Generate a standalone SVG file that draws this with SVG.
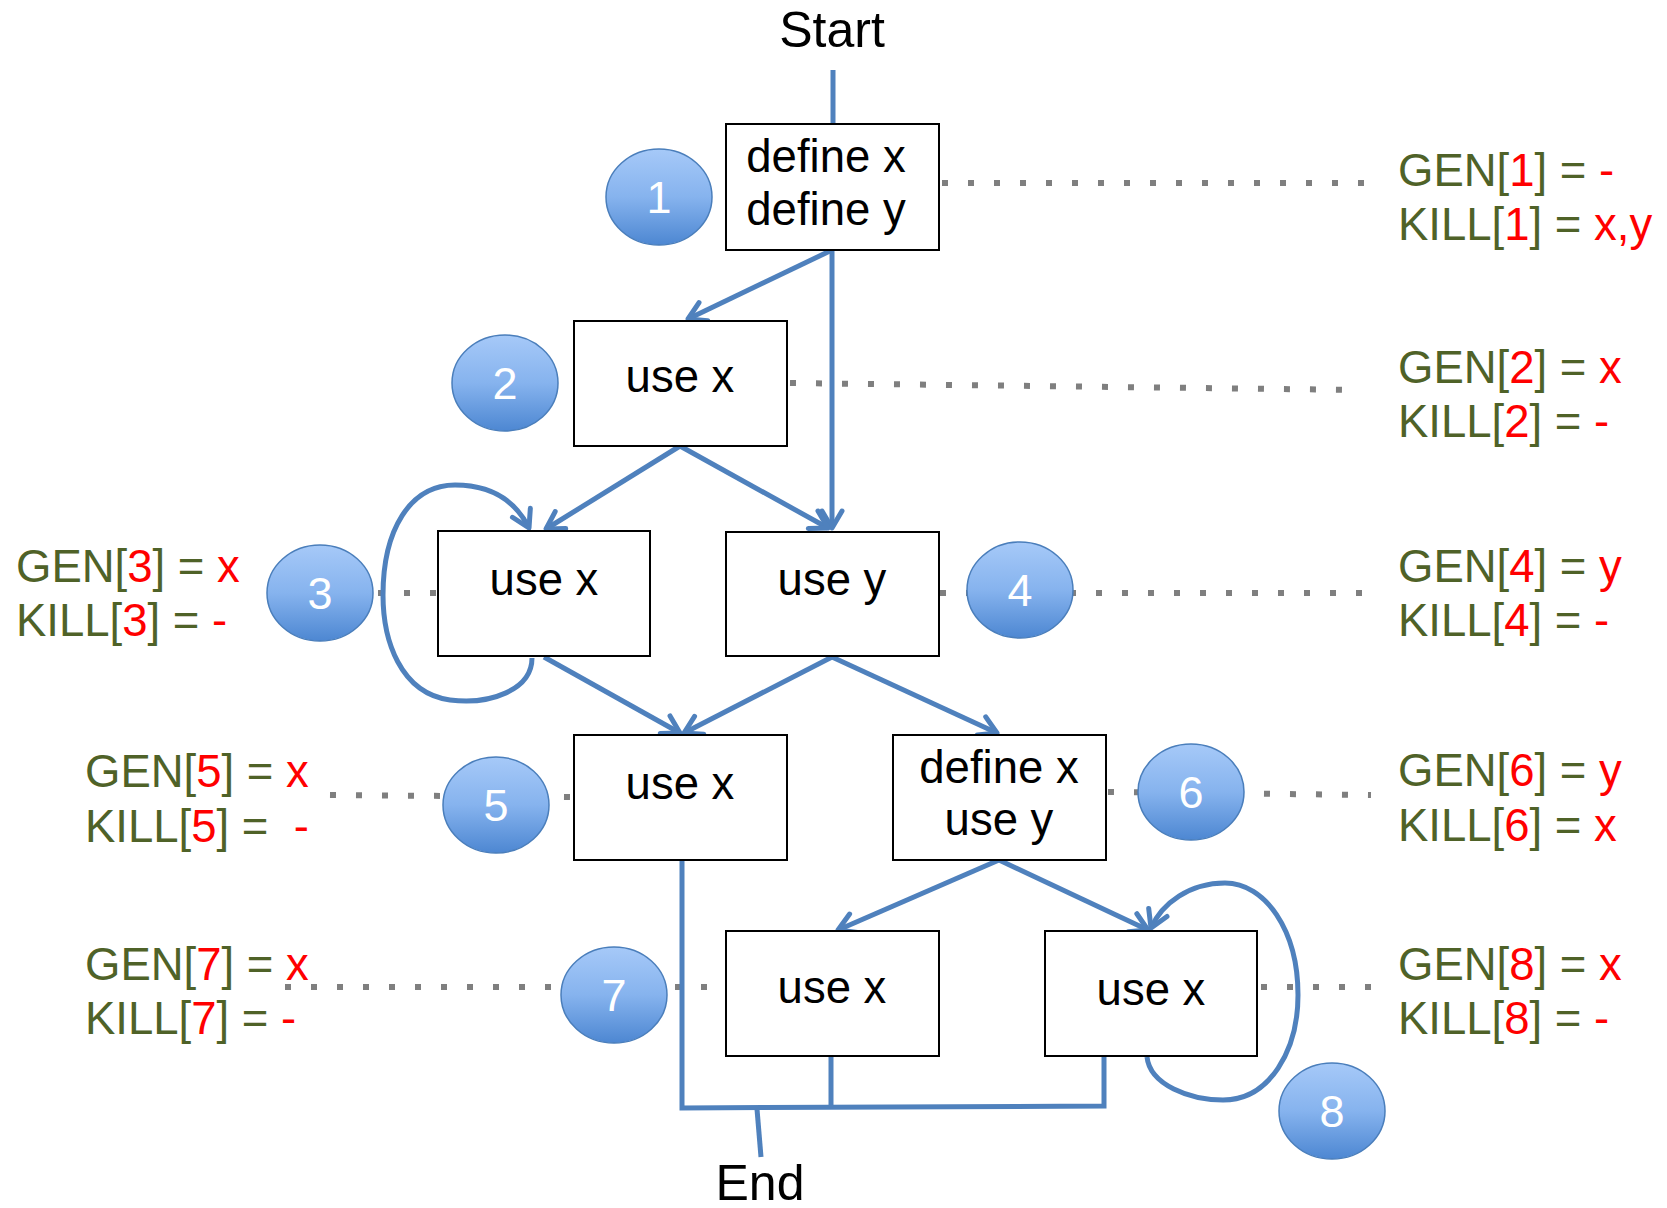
<svg xmlns="http://www.w3.org/2000/svg" width="1667" height="1208" viewBox="0 0 1667 1208">
<defs>
<linearGradient id="bub" x1="0" y1="0" x2="0" y2="1">
<stop offset="0" stop-color="#a6c9f8"/>
<stop offset="0.5" stop-color="#86b3ee"/>
<stop offset="1" stop-color="#4d87d2"/>
</linearGradient>
<marker id="arr" markerUnits="userSpaceOnUse" markerWidth="40" markerHeight="40" viewBox="-30 -20 40 40" refX="0" refY="0" orient="auto">
<path d="M-17,-10 L0,0 L-17,10" fill="none" stroke="#4f81bd" stroke-width="5" stroke-linecap="round" stroke-linejoin="round"/>
</marker>
</defs>
<style>
.box{fill:#fff;stroke:#000;stroke-width:2}
.bt{font-family:"Liberation Sans",Arial,sans-serif;font-size:45.5px;fill:#000;text-anchor:middle}
.bub{fill:url(#bub);stroke:#4a7ebb;stroke-width:1.5}
.bn{font-family:"Liberation Sans",Arial,sans-serif;font-size:45px;fill:#fff;text-anchor:middle}
.dot{stroke:#7f7f7f;stroke-width:6;stroke-dasharray:6 20;fill:none}
.lab{font-family:"Liberation Sans",Arial,sans-serif;font-size:45.5px;fill:#4f6228}
.r{fill:#ff0000}
.con{fill:none;stroke:#4f81bd;stroke-width:5}
.term{font-family:"Liberation Sans",Arial,sans-serif;font-size:50px;fill:#000;text-anchor:middle}
</style>
<rect width="1667" height="1208" fill="#fff"/>

<g id="dotted">
<line class="dot" x1="942" y1="183" x2="1382" y2="183"/>
<line class="dot" x1="790" y1="383" x2="1361" y2="390"/>
<line class="dot" x1="378" y1="593" x2="436" y2="593"/>
<line class="dot" x1="940" y1="593" x2="1377" y2="593"/>
<line class="dot" x1="330" y1="795" x2="571" y2="797"/>
<line class="dot" x1="1108" y1="792" x2="1371" y2="795"/>
<line class="dot" x1="285" y1="987" x2="723" y2="987"/>
<line class="dot" x1="1261" y1="987" x2="1371" y2="987"/>
</g>

<g id="connectors">
<path class="con" d="M833,70 L833,124"/>
<path class="con" d="M832,250 L688,319" marker-end="url(#arr)"/>
<path class="con" d="M832,250 L832,528" marker-end="url(#arr)"/>
<path class="con" d="M680,446 L546,529" marker-end="url(#arr)"/>
<path class="con" d="M680,446 L828,528" marker-end="url(#arr)"/>
<path class="con" d="M532,658 C532,690 490,705 450,700 C400,693 383,640 383,595 C383,530 410,485 455,485 C490,485 515,500 529,528" marker-end="url(#arr)"/>
<path class="con" d="M544,657 L680,733" marker-end="url(#arr)"/>
<path class="con" d="M832,657 L684,733" marker-end="url(#arr)"/>
<path class="con" d="M832,657 L997,733" marker-end="url(#arr)"/>
<path class="con" d="M999,860 L838,930" marker-end="url(#arr)"/>
<path class="con" d="M999,860 L1148,930" marker-end="url(#arr)"/>
<path class="con" d="M1147,1057 C1150,1085 1190,1100 1223,1100 C1270,1100 1298,1050 1298,995 C1298,930 1265,883 1225,883 C1190,883 1162,903 1151,928" marker-end="url(#arr)"/>
<path class="con" d="M682,861 L682,1108 L1104,1106 L1104,1054"/>
<path class="con" d="M831,1056 L831,1107"/>
<path class="con" d="M757,1109 L761,1157"/>
</g>

<g id="n1"><rect class="box" x="726" y="124" width="213" height="126"/><text class="bt" x="826" y="172">define x</text><text class="bt" x="826" y="225">define y</text></g>
<g id="n2"><rect class="box" x="574" y="321" width="213" height="125"/><text class="bt" x="680" y="392">use x</text></g>
<g id="n3"><rect class="box" x="438" y="531" width="212" height="125"/><text class="bt" x="544" y="595">use x</text></g>
<g id="n4"><rect class="box" x="726" y="532" width="213" height="124"/><text class="bt" x="832" y="595">use y</text></g>
<g id="n5"><rect class="box" x="574" y="735" width="213" height="125"/><text class="bt" x="680" y="799">use x</text></g>
<g id="n6"><rect class="box" x="893" y="735" width="213" height="125"/><text class="bt" x="999" y="783">define x</text><text class="bt" x="999" y="835">use y</text></g>
<g id="n7"><rect class="box" x="726" y="931" width="213" height="125"/><text class="bt" x="832" y="1003">use x</text></g>
<g id="n8"><rect class="box" x="1045" y="931" width="212" height="125"/><text class="bt" x="1151" y="1005">use x</text></g>

<g id="b1"><ellipse class="bub" cx="659" cy="197" rx="53" ry="48"/><text class="bn" x="659" y="213">1</text></g>
<g id="b2"><ellipse class="bub" cx="505" cy="383" rx="53" ry="48"/><text class="bn" x="505" y="399">2</text></g>
<g id="b3"><ellipse class="bub" cx="320" cy="593" rx="53" ry="48"/><text class="bn" x="320" y="609">3</text></g>
<g id="b4"><ellipse class="bub" cx="1020" cy="590" rx="53" ry="48"/><text class="bn" x="1020" y="606">4</text></g>
<g id="b5"><ellipse class="bub" cx="496" cy="805" rx="53" ry="48"/><text class="bn" x="496" y="821">5</text></g>
<g id="b6"><ellipse class="bub" cx="1191" cy="792" rx="53" ry="48"/><text class="bn" x="1191" y="808">6</text></g>
<g id="b7"><ellipse class="bub" cx="614" cy="995" rx="53" ry="48"/><text class="bn" x="614" y="1011">7</text></g>
<g id="b8"><ellipse class="bub" cx="1332" cy="1111" rx="53" ry="48"/><text class="bn" x="1332" y="1127">8</text></g>

<g id="labels">
<text class="lab" x="1398" y="186">GEN[<tspan class="r">1</tspan>] = <tspan class="r">-</tspan></text>
<text class="lab" x="1398" y="240">KILL[<tspan class="r">1</tspan>] = <tspan class="r">x,y</tspan></text>
<text class="lab" x="1398" y="383">GEN[<tspan class="r">2</tspan>] = <tspan class="r">x</tspan></text>
<text class="lab" x="1398" y="437">KILL[<tspan class="r">2</tspan>] = <tspan class="r">-</tspan></text>
<text class="lab" x="16" y="582">GEN[<tspan class="r">3</tspan>] = <tspan class="r">x</tspan></text>
<text class="lab" x="16" y="636">KILL[<tspan class="r">3</tspan>] = <tspan class="r">-</tspan></text>
<text class="lab" x="1398" y="582">GEN[<tspan class="r">4</tspan>] = <tspan class="r">y</tspan></text>
<text class="lab" x="1398" y="636">KILL[<tspan class="r">4</tspan>] = <tspan class="r">-</tspan></text>
<text class="lab" x="85" y="787">GEN[<tspan class="r">5</tspan>] = <tspan class="r">x</tspan></text>
<text class="lab" x="85" y="842" xml:space="preserve">KILL[<tspan class="r">5</tspan>] =  <tspan class="r">-</tspan></text>
<text class="lab" x="1398" y="786">GEN[<tspan class="r">6</tspan>] = <tspan class="r">y</tspan></text>
<text class="lab" x="1398" y="841">KILL[<tspan class="r">6</tspan>] = <tspan class="r">x</tspan></text>
<text class="lab" x="85" y="980">GEN[<tspan class="r">7</tspan>] = <tspan class="r">x</tspan></text>
<text class="lab" x="85" y="1034">KILL[<tspan class="r">7</tspan>] = <tspan class="r">-</tspan></text>
<text class="lab" x="1398" y="980">GEN[<tspan class="r">8</tspan>] = <tspan class="r">x</tspan></text>
<text class="lab" x="1398" y="1034">KILL[<tspan class="r">8</tspan>] = <tspan class="r">-</tspan></text>
</g>

<g id="start"><text class="term" x="832" y="47">Start</text></g>
<g id="end"><text class="term" x="760" y="1200">End</text></g>
</svg>
